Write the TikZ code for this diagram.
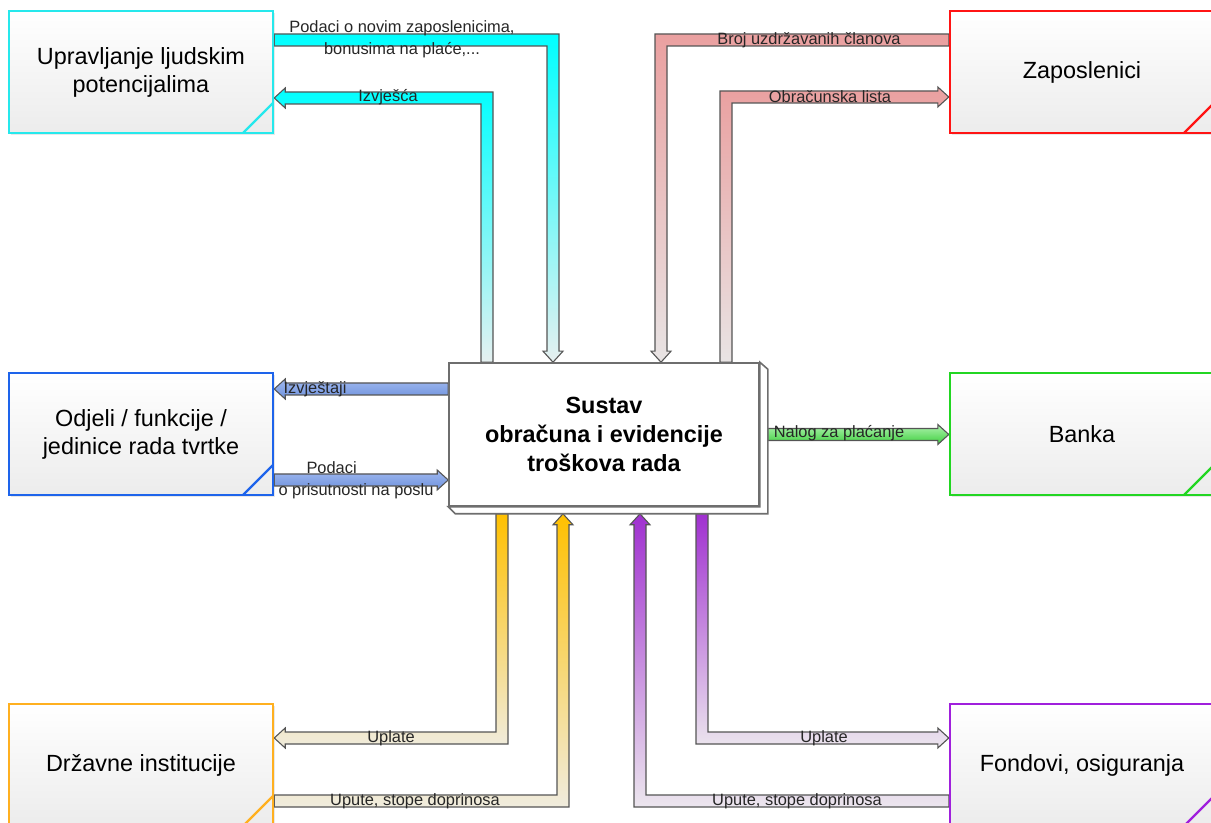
\documentclass[tikz,border=0pt]{standalone}
\usepackage{fontspec}
\setmainfont{Liberation Sans}
\usetikzlibrary{calc,shadows,backgrounds}

\definecolor{hrcol}{RGB}{38,232,236}
\definecolor{zapcol}{RGB}{255,20,20}
\definecolor{odjcol}{RGB}{30,100,235}
\definecolor{bankcol}{RGB}{34,214,34}
\definecolor{drzcol}{RGB}{255,176,32}
\definecolor{fondcol}{RGB}{160,32,220}
\definecolor{arrline}{RGB}{85,85,85}
\definecolor{sysline}{RGB}{110,110,110}
\definecolor{boxgray}{RGB}{236,236,236}
\definecolor{cyanA}{RGB}{0,255,255}
\definecolor{cyanB}{RGB}{230,240,240}
\definecolor{redA}{RGB}{234,160,160}
\definecolor{redB}{RGB}{232,228,228}
\definecolor{blueA}{RGB}{160,184,240}
\definecolor{blueB}{RGB}{110,146,220}
\definecolor{greenA}{RGB}{176,242,176}
\definecolor{greenB}{RGB}{60,208,60}
\definecolor{orA}{RGB}{255,192,0}
\definecolor{orB}{RGB}{240,236,222}
\definecolor{purA}{RGB}{160,48,208}
\definecolor{purB}{RGB}{236,230,238}

\newcommand\boxfont{\fontsize{11.7}{14}\selectfont}
\newcommand\sysfont{\fontsize{11.7}{14.5}\selectfont\bfseries}
\newcommand\lblfont{\fontsize{8.2}{11}\selectfont}

% half shaft, half head, head length
\newcommand\shaftw{3pt}
\newcommand\headw{5pt}
\newcommand\headl{5.5pt}

% fat arrow: top colour, bottom colour, start, bend, tip
\newcommand\fatarrow[5]{%
  \shade[fat, top color=#1, bottom color=#2]
    let \p1=(#3), \p2=(#4), \p3=(#5),
        \n1={sign(\x2-\x1)}, \n2={sign(\y2-\y1)},
        \n3={sign(\x3-\x2)}, \n4={sign(\y3-\y2)} in
    ({\x1-\shaftw*(\n2)},{\y1+\shaftw*(\n1)})
    -- ({\x2-\shaftw*((\n2)+(\n4))},{\y2+\shaftw*((\n1)+(\n3))})
    -- ({\x3-\headl*(\n3)-\shaftw*(\n4)},{\y3-\headl*(\n4)+\shaftw*(\n3)})
    -- ({\x3-\headl*(\n3)-\headw*(\n4)},{\y3-\headl*(\n4)+\headw*(\n3)})
    -- (\p3)
    -- ({\x3-\headl*(\n3)+\headw*(\n4)},{\y3-\headl*(\n4)-\headw*(\n3)})
    -- ({\x3-\headl*(\n3)+\shaftw*(\n4)},{\y3-\headl*(\n4)-\shaftw*(\n3)})
    -- ({\x2+\shaftw*((\n2)+(\n4))},{\y2-\shaftw*((\n1)+(\n3))})
    -- ({\x1+\shaftw*(\n2)},{\y1-\shaftw*(\n1)})
    -- cycle;}

\begin{document}
\begin{tikzpicture}[x=0.5pt,y=-0.5pt]
   \useasboundingbox (0,0) rectangle (1211,823);
   \clip (0,0) rectangle (1211,823);
   \tikzstyle{fat}=[draw=arrline, line width=0.55pt, line join=miter]
   \tikzstyle{lbl}=[inner sep=0pt, font=\lblfont, align=center, text=black!85]
   \tikzstyle{sysbox}=[rectangle, draw=sysline, line width=0.8pt, fill=white, minimum width=155pt, minimum height=71.5pt, align=center, font=\sysfont]
   \tikzset{ent/.style={rectangle, draw=#1, line width=1.2pt, minimum width=132pt, minimum height=61pt,
       top color=white, bottom color=boxgray, align=center, font=\boxfont,
       drop shadow={shadow xshift=1pt, shadow yshift=-1pt, opacity=0.18},
       path picture={\draw[#1, line width=1.2pt] ([yshift=15pt]path picture bounding box.south east)
          -- ([xshift=-15pt]path picture bounding box.south east);}}}
   \foreach \n/\x/\y/\c/\t in {hr/141/72/hrcol/{Upravljanje ljudskim\\potencijalima},
       zap/1082/72/zapcol/{Zaposlenici},
       odj/141/434/odjcol/{Odjeli / funkcije /\\jedinice rada tvrtke},
       banka/1082/434/bankcol/{Banka},
       drz/141/765/drzcol/{Državne institucije},
       fond/1082/765/fondcol/{Fondovi, osiguranja}}
       \node[ent=\c] (\n) at (\x,\y) {\t};
   \node[sysbox] (sys) at (604,434.5) {Sustav\\obračuna i evidencije\\troškova rada};
   \draw[sysline, line width=0.8pt, fill=white] (sys.north east) -- ++(8,7) |- ($(sys.south west)+(7,7)$)
       -- (sys.south west) -- (sys.south east) -- cycle;
   \coordinate (podK) at (553,40);
   \coordinate (izvK) at (487,98);
   \coordinate (brojK) at (661,40);
   \coordinate (obrK) at (726,97);
   \coordinate (izjY) at (360,389);
   \coordinate (prY) at (360,480);
   \coordinate (nalS) at ($(sys.east)+(8,0)$);
   \coordinate (sysB) at ($(sys.south)+(0,7)$);
   \coordinate (uplLK) at (502,738);
   \coordinate (upuLK) at (563,801);
   \coordinate (uplRK) at (702,738);
   \coordinate (upuRK) at (640,801);
   \begin{scope}[on background layer]
     \fatarrow{cyanA}{cyanB}{hr.east |- podK}{podK}{podK |- sys.north}
     \fatarrow{cyanA}{cyanB}{izvK |- sys.north}{izvK}{hr.east |- izvK}
     \fatarrow{redA}{redB}{zap.west |- brojK}{brojK}{brojK |- sys.north}
     \fatarrow{redA}{redB}{obrK |- sys.north}{obrK}{zap.west |- obrK}
     \fatarrow{blueA}{blueB}{sys.west |- izjY}{sys.west |- izjY}{odj.east |- izjY}
     \fatarrow{blueA}{blueB}{odj.east |- prY}{odj.east |- prY}{sys.west |- prY}
     \fatarrow{greenA}{greenB}{nalS}{nalS}{banka.west |- nalS}
     \fatarrow{orA}{orB}{uplLK |- sysB}{uplLK}{drz.east |- uplLK}
     \fatarrow{orA}{orB}{drz.east |- upuLK}{upuLK}{upuLK |- sysB}
     \fatarrow{purA}{purB}{uplRK |- sysB}{uplRK}{fond.west |- uplRK}
     \fatarrow{purA}{purB}{fond.west |- upuRK}{upuRK}{upuRK |- sysB}
   \end{scope}
   \node[lbl] (lpod) at (402,39) {Podaci o novim zaposlenicima,\\bonusima na plaće,...};
   \foreach \n/\x/\y/\t in {lizv/388/97/{Izvješća}, lbroj/809/40/{Broj uzdržavanih članova},
       lobr/830/97/{Obračunska lista}, lizj/315/389/{Izvještaji}, lnal/839/433/{Nalog za plaćanje},
       luplL/391/738/{Uplate}, lupuL/415/801/{Upute, stope doprinosa},
       luplR/824/738/{Uplate}, lupuR/797/801/{Upute, stope doprinosa}}
       \node[lbl] (\n) at (\x,\y) {\t};
   \node[lbl, align=left] (lpr) at (356,480) {\hspace*{14pt}Podaci\\o prisutnosti na poslu};
\end{tikzpicture}
\end{document}
